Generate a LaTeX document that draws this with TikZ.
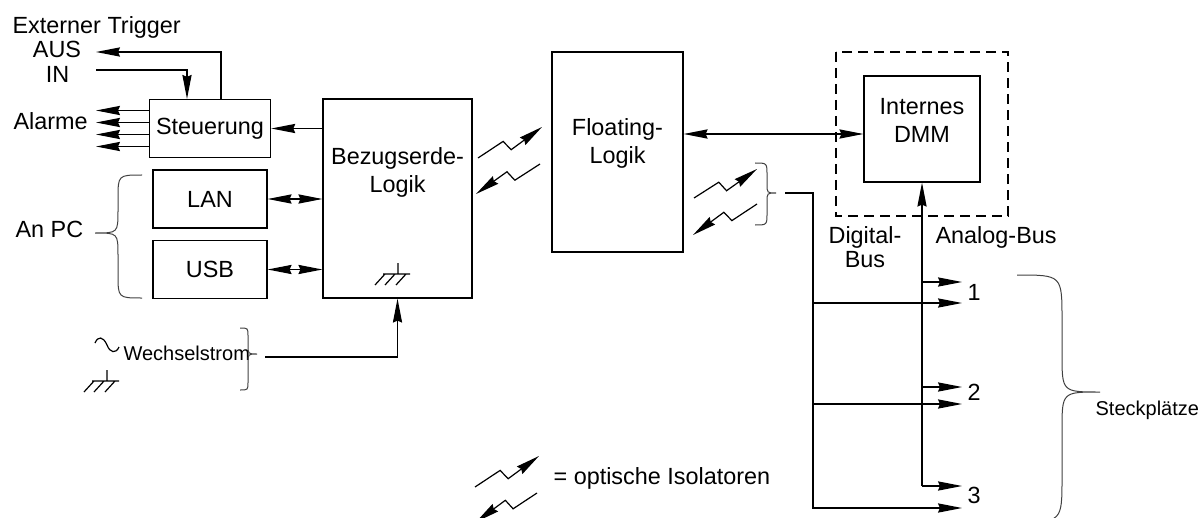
\documentclass[tikz,border=0pt]{standalone}
\usepackage{fontspec}
\setmainfont{Liberation Sans}
\usetikzlibrary{positioning, arrows.meta, calc}

\newcommand{\mainsz}{\fontsize{11.7pt}{14pt}\selectfont}
\newcommand{\smallsz}{\fontsize{10pt}{12pt}\selectfont}

% curly brace: end x, middle x, tip x, top y, tip y, bottom y
\newcommand{\curly}[6]{%
  \draw[brc] (#1,#4) .. controls (#2,#4) .. (#2,{#4+abs(#2-#1)})
    -- (#2,{#5-abs(#3-#2)}) .. controls (#2,#5) .. (#3,#5)
    .. controls (#2,#5) .. (#2,{#5+abs(#3-#2)})
    -- (#2,{#6-abs(#2-#1)}) .. controls (#2,#6) .. (#1,#6);}

% optical isolator symbol
\newcommand{\opto}[2]{%
  \draw[->] (#1) -- ($(#1)!0.42!(#2)!2pt!90:(#2)$)
    -- ($(#1)!0.47!(#2)!3.5pt!-90:(#2)$) -- (#2);}

\begin{document}
\begin{tikzpicture}[
      x=0.5pt, y=-0.5pt,
      node distance=35.25pt,
      on grid,
      line width=0.6pt,
      >={Stealth[length=12pt,width=4.6pt,inset=1pt]},
      box/.style={draw, minimum width=57pt, minimum height=29pt, font=\mainsz},
      txt/.style={font=\mainsz, inner sep=0pt, align=center},
      small/.style={font=\smallsz, inner sep=0pt},
      brc/.style={line width=0.5pt, black!75},
      gnd/.pic={\draw (0,0) -- (0,11) (-15,11) -- (12,11)
        (-13,11) -- (-23,22) (-3,11) -- (-13,22) (8,11) -- (-2,22);},
    ]
    \useasboundingbox (0,0) rectangle (1202,518);

    % boxes
    \node[box]             (steu) at (210,128.5) {Steuerung};
    \node[box, below=of steu] (lan) {LAN};
    \node[box, below=of lan]  (usb) {USB};
    \node[draw, minimum width=74.5pt, minimum height=99.5pt] (bez) at (397.5,198.5) {};
    \node[draw, minimum width=65.5pt, minimum height=100pt] (flo) at (617.5,152) {};
    \node[draw, minimum width=58pt, minimum height=53pt]    (dmm) at (922,129) {};
    \draw[dash pattern=on 5pt off 3pt] (836,52) rectangle (1008,216);

    % base anchor sits on the last line
    \node[txt, anchor=base] (bezlbl) at ($(bez.north)+(0,94)$) {Bezugserde-\\Logik};
    \node[txt, anchor=base] (flolbl) at ($(flo.north)+(0,112)$) {Floating-\\Logik};
    \node[txt, anchor=base] (dmmlbl) at ($(dmm.north)+(0,67)$) {Internes\\DMM};

    % texts
    \node[txt, anchor=base west] (trig)   at (12,33.5) {Externer Trigger};
    \node[txt, anchor=base]      (aus)    at (57,58) {AUS};
    \node[txt, anchor=base]      (in)     at (57.5,83) {IN};
    \node[txt, anchor=base west] (alarme) at (13,130) {Alarme};
    \node[txt, anchor=base west] (anpc)   at (15,237) {An PC};
    \node[small, anchor=base west] (wechsel) at (123,360.5) {Wechselstrom};
    \node[txt, anchor=base west, font=\fontsize{11.7pt}{12pt}\selectfont]
                                 (digital) at (828,267) {Digital-\\Bus};
    \node[txt, anchor=base west] (analog) at (935,243) {Analog-Bus};
    \node[small, anchor=base west] (steck) at (1095,415) {Steckplätze};
    \node[txt, anchor=base west] (legend) at (553,484) {= optische Isolatoren};
    \node[txt, anchor=base west] (n1) at (967,300) {1};
    \node[txt, anchor=base west] (n2) at (967,400) {2};
    \node[txt, anchor=base west] (n3) at (967,503) {3};

    % free ends
    \coordinate (ausend) at (96,52);
    \coordinate (inend)  at (96,70);
    \coordinate (alm)    at (96,128.5);
    \coordinate (wsend)  at (265,357);
    \coordinate (dig)    at (785,193);
    \coordinate (dbus)   at (813,193);
    \coordinate (a1) at (962,282);
    \coordinate (a2) at (962,387);
    \coordinate (a3) at (962,486);
    \coordinate (d1) at (962,303);
    \coordinate (d2) at (962,404);
    \coordinate (d3) at (962,508);

    % trigger and alarms
    \draw[->] ($(steu.north)+(11,0)$) |- (ausend);
    \draw[->] (inend) -| ($(steu.north)+(-23,0)$);
    \foreach \dy in {-18,-6,6,18}
      \draw[->] ($(steu.west)+(0,\dy)$) -- ($(alm)+(0,\dy)$);

    % connections
    \draw[->]  (bez.west |- steu.east) -- (steu.east);
    \draw[<->] (lan.east) -- (lan.east -| bez.west);
    \draw[<->] (usb.east) -- (usb.east -| bez.west);
    \draw[->]  (wsend) -| (bez.south);
    \draw[<->] ([yshift=9pt]flo.east) -- ([yshift=9pt]flo.east -| dmm.west);

    % analog bus
    \draw[->] (dmm.south |- a3) -- (dmm.south);
    \foreach \s in {1,2,3}
      \draw[->] (dmm.south |- a\s) -- (a\s);

    % digital bus
    \draw[->] (dig) -- (dbus) |- (d3);
    \foreach \s in {1,2}
      \draw[->] (dbus |- d\s) -- (d\s);

    % braces
    \curly{142}{118}{95}{175}{233}{298}
    \curly{240}{248}{257}{328}{354}{390}
    \curly{755}{767}{776}{163}{193}{225}
    \curly{1017}{1062}{1100}{275}{392}{522}

    % isolators
    \opto{478,158}{542,127}
    \opto{540,164}{476,194}
    \opto{694,198}{757,169}
    \opto{757,204}{693,235}
    \opto{475,487}{539,456}
    \opto{537,493}{476,522}

    % ground and ac
    \pic at (398,263) {gnd};
    \pic at (107,370) {gnd};
    \draw (95,343) .. controls (98,336) and (103,336) .. (107,345)
      .. controls (110,353) and (116,354) .. (119,347);

  \end{tikzpicture}
\end{document}
